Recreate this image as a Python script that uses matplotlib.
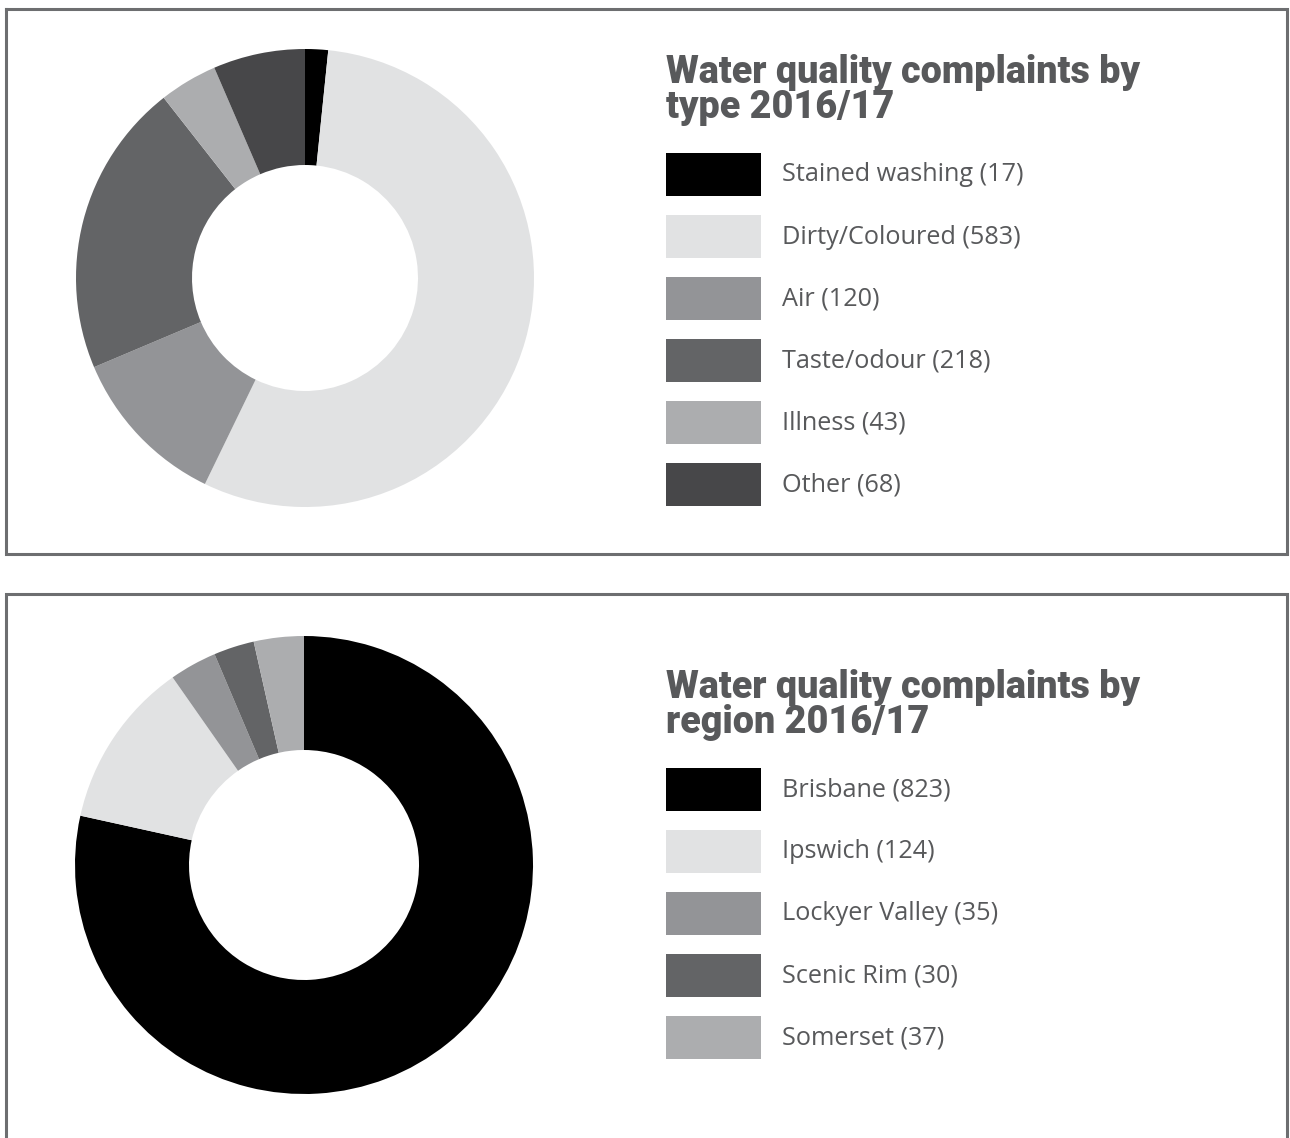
import matplotlib
matplotlib.use("Agg")
import matplotlib.pyplot as plt
from matplotlib.patches import Rectangle
from matplotlib.lines import Line2D

W, H = 1290, 1138
DPI = 100

type_labels = ["Stained washing", "Dirty/Coloured", "Air", "Taste/odour", "Illness", "Other"]
type_values = [17, 583, 120, 218, 43, 68]
type_colors = ["#000000", "#e1e2e3", "#939497", "#636466", "#acadaf", "#474749"]

region_labels = ["Brisbane", "Ipswich", "Lockyer Valley", "Scenic Rim", "Somerset"]
region_values = [823, 124, 35, 30, 37]
region_colors = ["#000000", "#e1e2e3", "#939497", "#636466", "#acadaf"]

titles = [["Water quality complaints by", "type 2016/17"],
          ["Water quality complaints by", "region 2016/17"]]

TEXT_COLOR = "#58595b"
BORDER = "#6d6e70"

fig = plt.figure(figsize=(W / DPI, H / DPI), dpi=DPI)
fig.patch.set_facecolor("white")


def fx(x):
    return x / W


def fy(y):
    return 1 - y / H


def border(pts):
    xs = [fx(p[0]) for p in pts]
    ys = [fy(p[1]) for p in pts]
    fig.add_artist(Line2D(xs, ys, color=BORDER, lw=2.2, transform=fig.transFigure,
                          solid_joinstyle="miter"))


border([(6, 9), (1287, 9), (1287, 554), (6, 554), (6, 9)])
border([(6, 1140), (6, 594), (1287, 594), (1287, 1140)])


def donut(cx, cy, r_out, r_in, values, colors):
    ax = fig.add_axes([fx(cx - r_out), fy(cy + r_out), 2 * r_out / W, 2 * r_out / H])
    ax.pie(values, colors=colors, startangle=90, counterclock=False, radius=1.0,
           wedgeprops=dict(width=1 - r_in / r_out, linewidth=0, edgecolor="none"))
    ax.set_xlim(-1, 1)
    ax.set_ylim(-1, 1)
    ax.set_aspect("auto")
    ax.axis("off")


def legend(title_lines, base_y, box_y0, labels, values, colors):
    for j, line in enumerate(title_lines):
        fig.text(fx(666), fy(base_y + j * 35), line, color=TEXT_COLOR, fontsize=27.2,
                 family=["Roboto", "DejaVu Sans"], fontweight="black",
                 va="baseline", ha="left")
    for i, (lab, val, col) in enumerate(zip(labels, values, colors)):
        y0 = box_y0 + i * 62
        fig.add_artist(Rectangle((fx(666), fy(y0 + 43)), 95 / W, 43 / H,
                                 facecolor=col, edgecolor="none", transform=fig.transFigure))
        fig.text(fx(782), fy(y0 + 22), f"{lab} ({val})", color=TEXT_COLOR, fontsize=18.2,
                 family=["Open Sans", "DejaVu Sans"], va="center", ha="left")


donut(305, 278, 229, 113, type_values, type_colors)
legend(titles[0], 83, 153, type_labels, type_values, type_colors)

donut(304, 865, 229, 115, region_values, region_colors)
legend(titles[1], 698, 768, region_labels, region_values, region_colors)

fig.savefig("out.png", dpi=DPI, facecolor="white")
